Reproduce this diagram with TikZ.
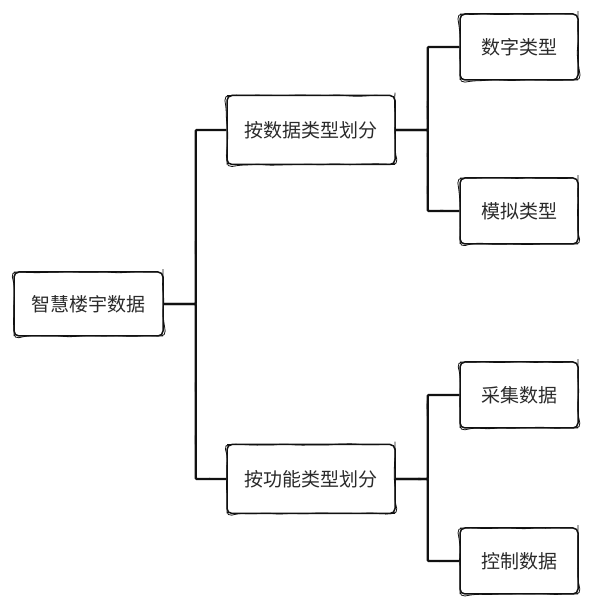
\documentclass[tikz,border=0pt]{standalone}
\usepackage{fontspec}
\setmainfont{Noto Sans CJK SC}
\usetikzlibrary{calc,decorations.pathmorphing}
\definecolor{ink}{HTML}{111111}
\definecolor{label}{HTML}{2A2A2A}
\tikzset{
  sketchbox/.style={draw=ink,fill=white,rounded corners=5pt,line width=1.5pt,align=center,
    text=label,font=\fontsize{19}{22}\selectfont,inner sep=0pt,
    postaction={draw=ink,line width=0.8pt,decorate,
      decoration={random steps,segment length=9pt,amplitude=0.8pt}}},
  link/.style={draw=ink,line width=2.2pt,rounded corners=1pt,
    postaction={draw=ink,line width=0.7pt,decorate,
      decoration={random steps,segment length=12pt,amplitude=0.8pt}}}
}
\pgfmathsetseed{7}
\begin{document}
\begin{tikzpicture}[x=1pt,y=1pt,
    rootbox/.style={sketchbox,minimum width=149pt,minimum height=64pt},
    midbox/.style={sketchbox,minimum width=168pt,minimum height=69pt},
    leafbox/.style={sketchbox,minimum width=118pt,minimum height=66pt}
  ]
    \useasboundingbox (0,0) rectangle (598,608);
    \node[rootbox] (root) at (88.5,304) {智慧楼宇数据};
    \node[midbox] (byType) at (311,478) {按数据类型划分};
    \node[midbox] (byFunc) at (311,129) {按功能类型划分};
    \node[leafbox] (digital) at (519,561) {数字类型};
    \node[leafbox] (analog) at (519,397) {模拟类型};
    \node[leafbox] (collect) at (519,213) {采集数据};
    \node[leafbox] (control) at (519,47) {控制数据};
    \foreach \a/\b in {root/byType,root/byFunc}
      \draw[link] (\a.east) -- ++(32,0) |- (\b.west);
    \foreach \a/\b in {byType/digital,byType/analog,byFunc/collect,byFunc/control}
      \draw[link] (\a.east) -- ++(32,0) |- (\b.west);
  \end{tikzpicture}
\end{document}
